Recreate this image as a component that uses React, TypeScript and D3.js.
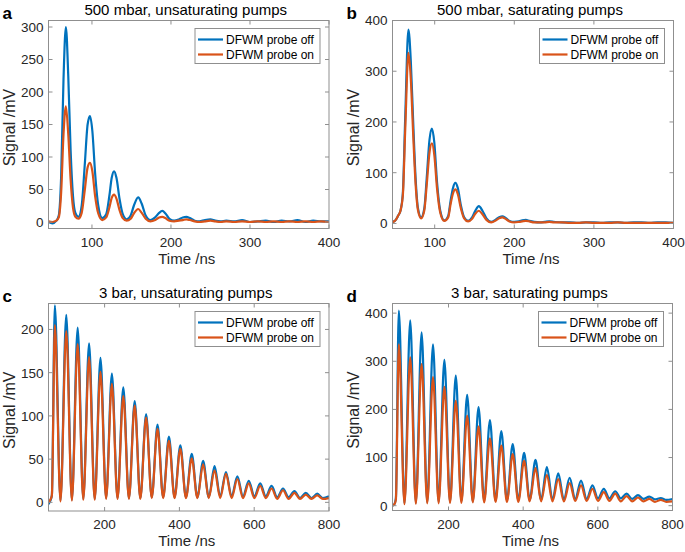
import React from 'react';
import * as d3 from 'd3';

const FONT = '"Liberation Sans", Arial, Helvetica, sans-serif';
const BLUE = '#0072BD';
const ORANGE = '#D95319';

const seriesNames = ['DFWM probe off', 'DFWM probe on'];
const panelLetters = ['a', 'b', 'c', 'd'];
const panelTitles = [
  '500 mbar, unsaturating pumps',
  '500 mbar, saturating pumps',
  '3 bar, unsaturating pumps',
  '3 bar, saturating pumps',
];
const xLabel = 'Time /ns';
const yLabel = 'Signal /mV';

// Panel a
const aTime = [45,50,55,58,61,64,67,70,73,76,79,83,87,91,94.5,97.5,100.5,104,108,113,118,122,125,128,131,135,139,144,149,153,158.5,163,168,174,180,185,189,193,198,204,210,215,219.5,224,230,236,243,250,256,263,270,280,290,300,310,320,330,340,350,360,370,380,390,400];
const aProbeOff = [0,-2,2,10,70,220,300,225,110,40,14,8,25,90,150,163,140,75,25,6,12,40,68,78,68,35,12,4,10,25,38,28,10,3,7,14,17,13,5,2,4,7,8,6,2,1,3,4,2,1,2,1,3,0,1,2,0,2,1,3,0,2,1,1];
const aProbeOn = [1,0,2,7,45,135,178,135,65,22,8,5,14,50,84,91,78,40,13,3,7,22,37,42,36,18,6,2,5,13,20,14,5,1,3,7,8,6,2,1,2,3,4,3,1,0,1,2,1,0,1,0,1,0,1,0,1,0,1,0,1,0,1,0];
const aXTicks = [100, 200, 300, 400];
const aYTicks = [0, 50, 100, 150, 200, 250, 300];

// Panel b
const bTime = [45,50,54,57,60,63,67,70,73,76,79,83,87,90,93.5,96.5,99.5,103,107,112,117,120,123,126,129,133,137,142,147,151,155.5,160,165,171,177,181,185,189,194,200,206,210,214.5,219,225,232,238,244,250,260,270,280,290,300,310,320,330,340,350,360,370,380,390,400];
const bProbeOff = [2,5,15,25,60,210,382,320,200,90,30,12,30,90,165,187,160,80,25,6,15,45,70,80,70,35,12,5,12,25,34,25,10,3,8,12,14,11,5,3,4,6,7,5,3,2,3,4,3,2,2,1,2,2,1,2,2,1,2,2,1,2,2,1];
const bProbeOn = [2,5,15,25,55,185,336,285,175,78,26,10,26,76,140,158,135,68,21,5,12,38,59,67,58,29,10,4,9,19,25,18,7,2,6,10,12,9,4,2,3,4,5,4,2,2,2,3,2,2,1,1,2,1,1,1,2,1,1,1,1,1,1,1];
const bXTicks = [100, 200, 300, 400];
const bYTicks = [0, 100, 200, 300, 400];

// Panels c and d share the time grid (peaks and troughs)
const cdTime = [50,55,59,67,82,97.5,112.5,128,143,158.5,173.5,189,204,219.5,234.5,250,265,280.5,295.5,311,326,341.5,356.5,372,387,402.5,417.5,433,448,463.5,478.5,494,509,524.5,539.5,555,570,585.5,600.5,616,631,646.5,661.5,677,692,707.5,722.5,738,753,768.5,783.5,800];
const cProbeOff = [-2,2,8,228,2,217,3,202,4,184,4,167,5,149,5,133,5,117,5,102,6,90,6,76,6,66,6,56,6,48,6,42,7,35,7,30,7,25,7,22,7,19,6,16,6,13,5,11,5,10,5,7];
const cProbeOn = [0,3,8,205,1,198,2,183,3,168,3,151,4,137,4,123,4,112,4,98,5,85,5,71,5,62,5,51,5,44,5,37,5,33,5,27,5,22,5,19,5,16,4,14,4,11,4,9,4,8,4,5];
const cXTicks = [200, 400, 600, 800];
const cYTicks = [0, 50, 100, 150, 200];

const dProbeOff = [0,3,15,405,5,385,6,360,7,335,8,303,8,270,9,230,9,205,10,178,10,155,11,128,11,110,12,95,12,80,13,67,13,58,14,52,14,42,15,35,15,30,15,25,14,22,14,19,13,16,12,14];
const dProbeOn = [0,3,12,335,3,308,4,294,5,267,5,247,6,218,6,187,7,165,7,140,8,125,8,107,8,93,9,78,9,64,9,55,9,47,10,42,10,35,10,28,10,25,9,20,9,17,9,14,8,12,8,9];
const dXTicks = [200, 400, 600, 800];
const dYTicks = [0, 100, 200, 300, 400];

interface PanelCfg {
  id: string;
  letter: string;
  title: string;
  left: number; right: number; top: number; bottom: number;
  xDomain: [number, number];
  yDomain: [number, number];
  xTicks: number[];
  yTicks: number[];
  time: number[];
  off: number[];
  on: number[];
}

const panels: PanelCfg[] = [
  { id: 'a', letter: panelLetters[0], title: panelTitles[0], left: 48.5, right: 329, top: 20.5, bottom: 228.5,
    xDomain: [45, 400], yDomain: [-10, 310], xTicks: aXTicks, yTicks: aYTicks, time: aTime, off: aProbeOff, on: aProbeOn },
  { id: 'b', letter: panelLetters[1], title: panelTitles[1], left: 392.5, right: 673.5, top: 20.5, bottom: 228.5,
    xDomain: [47, 400], yDomain: [-10, 400], xTicks: bXTicks, yTicks: bYTicks, time: bTime, off: bProbeOff, on: bProbeOn },
  { id: 'c', letter: panelLetters[2], title: panelTitles[2], left: 48.5, right: 329, top: 303.5, bottom: 511,
    xDomain: [50, 800], yDomain: [-10, 230], xTicks: cXTicks, yTicks: cYTicks, time: cdTime, off: cProbeOff, on: cProbeOn },
  { id: 'd', letter: panelLetters[3], title: panelTitles[3], left: 392.5, right: 672.5, top: 303.5, bottom: 510.5,
    xDomain: [50, 800], yDomain: [-10, 420], xTicks: dXTicks, yTicks: dYTicks, time: cdTime, off: dProbeOff, on: dProbeOn },
];

function Panel({ p }: { p: PanelCfg }) {
  const x = d3.scaleLinear().domain(p.xDomain).range([p.left, p.right]);
  const y = d3.scaleLinear().domain(p.yDomain).range([p.bottom, p.top]);
  const line = d3.line<number>()
    .x((_, i) => x(p.time[i]))
    .y((v) => y(v))
    .curve(d3.curveMonotoneX);
  const clipId = `clip-${p.id}`;
  const tickLen = 4;
  const axisColor = '#8f8f8f';
  const textColor = '#262626';
  const cx = (p.left + p.right) / 2;
  const cy = (p.top + p.bottom) / 2;
  const legW = 125;
  const legH = 35;
  const legX = p.right - 9 - legW;
  const legY = p.top + 8;
  return (
    <g>
      <defs>
        <clipPath id={clipId}>
          <rect x={p.left} y={p.top} width={p.right - p.left} height={p.bottom - p.top} />
        </clipPath>
      </defs>
      <rect x={p.left} y={p.top} width={p.right - p.left} height={p.bottom - p.top} fill="#fff" />
      <g clipPath={`url(#${clipId})`}>
        <path d={line(p.off) || ''} fill="none" stroke={BLUE} strokeWidth={2.2} strokeLinejoin="round" />
        <path d={line(p.on) || ''} fill="none" stroke={ORANGE} strokeWidth={2.2} strokeLinejoin="round" />
      </g>
      <rect x={p.left} y={p.top} width={p.right - p.left} height={p.bottom - p.top} fill="none" stroke={axisColor} strokeWidth={1} />
      {p.xTicks.map((t) => (
        <g key={`xt${t}`}>
          <line x1={x(t)} x2={x(t)} y1={p.bottom} y2={p.bottom - tickLen} stroke={axisColor} />
          <line x1={x(t)} x2={x(t)} y1={p.top} y2={p.top + tickLen} stroke={axisColor} />
          <text x={x(t)} y={p.bottom + 18} textAnchor="middle" fontSize={13.5} fill={textColor} fontFamily={FONT}>{t}</text>
        </g>
      ))}
      {p.yTicks.map((t) => (
        <g key={`yt${t}`}>
          <line x1={p.left} x2={p.left + tickLen} y1={y(t)} y2={y(t)} stroke={axisColor} />
          <line x1={p.right} x2={p.right - tickLen} y1={y(t)} y2={y(t)} stroke={axisColor} />
          <text x={p.left - 5} y={y(t)} dy="0.36em" textAnchor="end" fontSize={13.5} fill={textColor} fontFamily={FONT}>{t}</text>
        </g>
      ))}
      <text x={cx - 3} y={p.top - 6} textAnchor="middle" fontSize={15} fill="#000" fontFamily={FONT}>{p.title}</text>
      <text x={cx - 2} y={p.bottom + 35} textAnchor="middle" fontSize={15} fill={textColor} fontFamily={FONT}>{xLabel}</text>
      <text transform={`translate(${p.left - 34},${cy + 3}) rotate(-90)`} textAnchor="middle" fontSize={16} fill={textColor} fontFamily={FONT}>{yLabel}</text>
      <text x={p.left - 46} y={p.top - 2} fontSize={17} fontWeight="bold" fill="#000" fontFamily={FONT}>{p.letter}</text>
      <g>
        <rect x={legX} y={legY} width={legW} height={legH} fill="#fff" stroke={axisColor} strokeWidth={1} />
        {[BLUE, ORANGE].map((c, i) => (
          <g key={c}>
            <line x1={legX + 3} x2={legX + 28} y1={legY + 11 + i * 15} y2={legY + 11 + i * 15} stroke={c} strokeWidth={2.2} />
            <text x={legX + 31} y={legY + 11 + i * 15} dy="0.35em" fontSize={12} fill="#000" fontFamily={FONT}>{seriesNames[i]}</text>
          </g>
        ))}
      </g>
    </g>
  );
}

export default function App() {
  return (
    <svg width={685} height={552} style={{ position: 'absolute', left: 0, top: 0, background: '#fff' }}>
      <rect x={0} y={0} width={685} height={552} fill="#fff" />
      {panels.map((p) => <Panel key={p.id} p={p} />)}
    </svg>
  );
}
